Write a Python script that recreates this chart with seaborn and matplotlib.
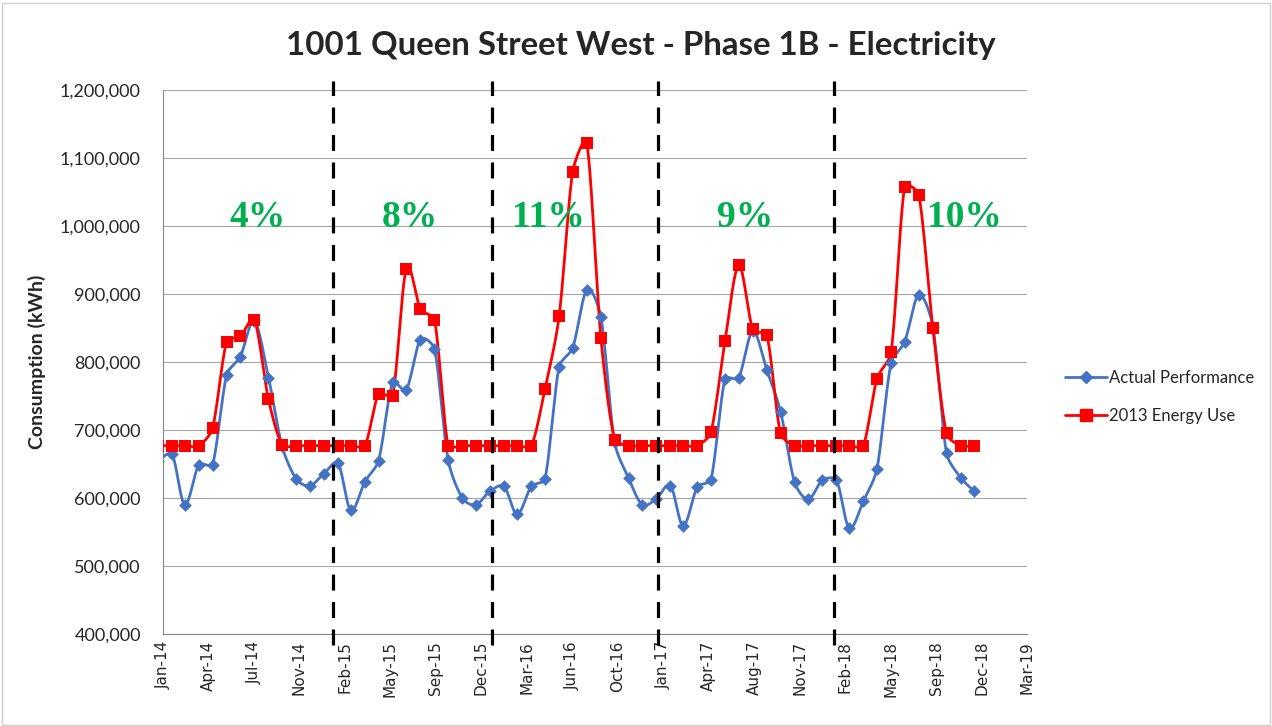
import numpy as np
import pandas as pd
import seaborn as sns
import matplotlib.pyplot as plt
import matplotlib.dates as mdates
from matplotlib.lines import Line2D
from matplotlib.patches import Rectangle

# --- Data (kWh, thousands) ---
months = pd.date_range("2013-12-31", "2018-11-30", freq="ME")   # Dec-13 lead-in + Jan-14..Nov-18

actual = [655,
          664, 590, 649, 649, 781, 808, 860, 777, 676, 628, 618, 636,
          651, 582, 624, 655, 770, 759, 833, 819, 656, 600, 590, 610,
          617, 576, 617, 628, 793, 821, 906, 866, 682, 629, 590, 599,
          618, 559, 616, 627, 775, 777, 845, 788, 727, 623, 598, 626,
          626, 556, 595, 643, 798, 830, 899, 852, 666, 630, 610]

energy_2013 = [677,
               677, 677, 677, 703, 830, 838, 862, 745, 678, 677, 677, 677,
               677, 677, 677, 753, 750, 937, 878, 862, 677, 677, 677, 677,
               677, 677, 677, 760, 867, 1080, 1122, 835, 686, 677, 677, 677,
               677, 677, 677, 697, 831, 942, 848, 839, 695, 677, 677, 677,
               677, 677, 677, 775, 814, 1058, 1046, 850, 695, 677, 677]

tick_labels = ["Jan-14", "Apr-14", "Jul-14", "Nov-14", "Feb-15", "May-15", "Sep-15",
               "Dec-15", "Mar-16", "Jun-16", "Oct-16", "Jan-17", "Apr-17", "Aug-17",
               "Nov-17", "Feb-18", "May-18", "Sep-18", "Dec-18", "Mar-19"]

divider_dates = ["2015-01-20", "2016-01-05", "2017-01-03", "2018-01-25"]
pct_labels = ["4%", "8%", "11%", "9%", "10%"]
pct_dates = ["2014-08-08", "2015-07-08", "2016-05-08", "2017-07-15", "2018-11-09"]
pct_y = 1_013_000

BLUE = "#4472C4"
RED = "#FF0000"
GREEN = "#00B050"

# approx screen scale, used only to shape the smoothed curve
PX_PER_DAY = 0.454
PX_PER_KWH = 0.68 / 1000


def smooth(x, y, n=24, k=1 / 3):
    # Excel-like smoothed line: catmull-rom bezier, tangent capped by the segment length
    pts = np.column_stack([np.asarray(x) * PX_PER_DAY, np.asarray(y) * PX_PER_KWH]).astype(float)
    P = np.vstack([pts[0], pts, pts[-1]])
    t = np.linspace(0, 1, n)[:, None]
    out = []

    def tangent(a, b, d):
        v = (b - a) / 6
        L = np.linalg.norm(v)
        return v if L <= d * k or L == 0 else v * (d * k / L)

    for i in range(1, len(P) - 2):
        p0, p1, p2, p3 = P[i - 1], P[i], P[i + 1], P[i + 2]
        d = np.linalg.norm(p2 - p1)
        c1 = p1 + tangent(p0, p2, d)
        c2 = p2 - tangent(p1, p3, d)
        seg = (1 - t) ** 3 * p1 + 3 * (1 - t) ** 2 * t * c1 + 3 * (1 - t) * t ** 2 * c2 + t ** 3 * p2
        out.append(seg if i == 1 else seg[1:])
    s = np.vstack(out)
    return s[:, 0] / PX_PER_DAY, s[:, 1] / PX_PER_KWH


xnum = mdates.date2num(months)
df = pd.DataFrame({"x": xnum,
                   "actual": np.array(actual) * 1000,
                   "energy": np.array(energy_2013) * 1000})

sns.set_style("white")
plt.rcParams["font.family"] = ["Lato", "DejaVu Sans"]

fig = plt.figure(figsize=(12.72, 7.26), dpi=100)
ax = fig.add_axes([163 / 1272, 1 - 634 / 726, 864 / 1272, 544 / 726])

# smoothed lines
for col, color, z in [("actual", BLUE, 3), ("energy", RED, 4)]:
    sx, sy = smooth(df["x"], df[col])
    sns.lineplot(x=sx, y=sy, ax=ax, color=color, linewidth=2.0,
                 sort=False, estimator=None, zorder=z)

sns.scatterplot(data=df, x="x", y="actual", ax=ax, marker="D", s=42,
                color=BLUE, edgecolor=BLUE, linewidth=0, zorder=5)
sns.scatterplot(data=df, x="x", y="energy", ax=ax, marker="s", s=80,
                color=RED, edgecolor=RED, linewidth=0, zorder=6)

# axes
start = mdates.date2num(pd.Timestamp("2014-01-11"))
ticks = start + 100 * np.arange(len(tick_labels))
ax.set_xlim(ticks[0], ticks[-1])
ax.set_xticks(ticks)
ax.set_xticklabels(tick_labels, rotation=90, fontsize=11, family="DejaVu Sans")
ax.set_ylim(400_000, 1_200_000)
ax.set_yticks(np.arange(400_000, 1_200_001, 100_000))
ax.set_yticklabels([f"{v:,}" for v in range(400_000, 1_200_001, 100_000)], fontsize=13)
ax.tick_params(axis="y", length=5, width=0.8, color="#868686", pad=11)
ax.tick_params(axis="x", length=0, pad=5)
ax.grid(axis="y", color="#A6A6A6", linewidth=0.8)
ax.set_axisbelow(True)
for side in ["top", "right"]:
    ax.spines[side].set_visible(False)
for side in ["left", "bottom"]:
    ax.spines[side].set_color("#868686")
    ax.spines[side].set_linewidth(0.8)
ax.set_xlabel("")
ax.set_ylabel("Consumption (kWh)", fontsize=14, fontweight="bold")
ax.yaxis.set_label_coords(-0.135, 0.5)

# year dividers
for d in divider_dates:
    ax.axvline(mdates.date2num(pd.Timestamp(d)), ymin=-0.02, ymax=1.017, clip_on=False,
               color="black", linewidth=2.3, linestyle=(0, (5, 3.6)), zorder=7)

# savings labels
for lab, d in zip(pct_labels, pct_dates):
    ax.text(mdates.date2num(pd.Timestamp(d)), pct_y, lab, ha="center", va="center",
            fontsize=27, fontweight="bold", color=GREEN, family="Liberation Serif", zorder=8)

fig.text(0.504, 1 - 46 / 726, "1001 Queen Street West - Phase 1B - Electricity",
         ha="center", va="center", fontsize=23.8, fontweight="bold")

handles = [Line2D([], [], color=BLUE, lw=2.0, marker="D", markersize=6.5),
           Line2D([], [], color=RED, lw=2.0, marker="s", markersize=8.5)]
fig.legend(handles, ["Actual Performance", "2013 Energy Use"], loc="center left",
           bbox_to_anchor=(1050 / 1272, 1 - 397 / 726), frameon=False, fontsize=12,
           handlelength=2.5, handletextpad=0.15, labelspacing=1.35)

fig.add_artist(Rectangle((0.0015, 0.002), 0.997, 0.994, transform=fig.transFigure,
                         fill=False, edgecolor="#D0D0D0", linewidth=1))

plt.savefig("out.png", dpi=100)
plt.close()
